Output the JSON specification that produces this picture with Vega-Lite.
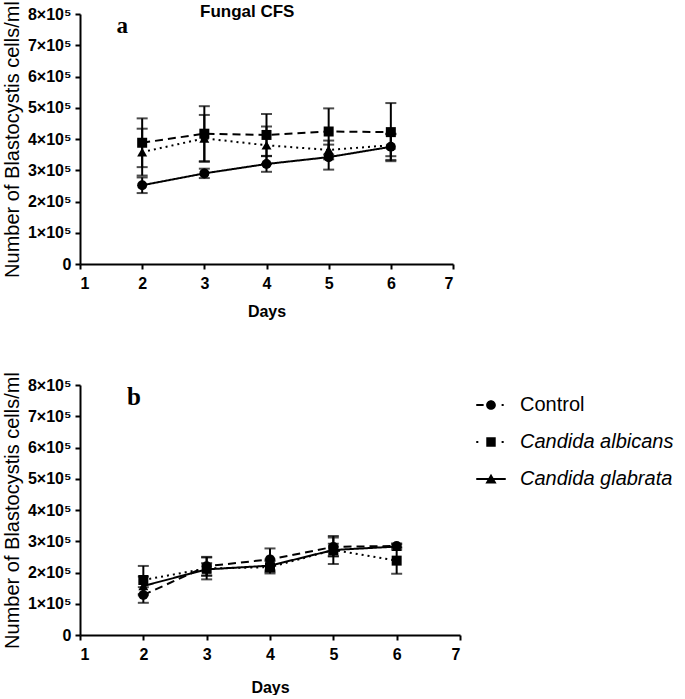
{
  "$schema": "https://vega.github.io/schema/vega-lite/v6.json",
  "padding": {"left": 2, "top": 0, "right": 0, "bottom": 0},
  "spacing": 52,
  "resolve": {"scale": {"strokeDash": "independent", "shape": "independent"}, "legend": {"shape": "independent", "strokeDash": "independent"}},
  "config": {
    "view": {"stroke": null},
    "font": "Liberation Sans",
    "axis": {
      "domainColor": "black", "domainWidth": 2, "tickColor": "black", "tickWidth": 2, "tickSize": 5,
      "labelFont": "Liberation Sans", "labelFontWeight": "bold", "labelColor": "black", "labelFontSize": 16,
      "titleFont": "Liberation Sans", "titleFontWeight": "bold", "titleColor": "black", "titleFontSize": 16,
      "grid": false
    }
  },
  "datasets": {
    "cells": [
      {"panel": "a", "series": "Control", "day": 2, "mean": 252000, "sd": 25000},
      {"panel": "a", "series": "Control", "day": 3, "mean": 290000, "sd": 15000},
      {"panel": "a", "series": "Control", "day": 4, "mean": 320000, "sd": 25000},
      {"panel": "a", "series": "Control", "day": 5, "mean": 342000, "sd": 40000},
      {"panel": "a", "series": "Control", "day": 6, "mean": 375000, "sd": 42000},
      {"panel": "a", "series": "Candida albicans", "day": 2, "mean": 388000, "sd": 78000},
      {"panel": "a", "series": "Candida albicans", "day": 3, "mean": 417000, "sd": 88000},
      {"panel": "a", "series": "Candida albicans", "day": 4, "mean": 413000, "sd": 67000},
      {"panel": "a", "series": "Candida albicans", "day": 5, "mean": 424000, "sd": 74000},
      {"panel": "a", "series": "Candida albicans", "day": 6, "mean": 422000, "sd": 93000},
      {"panel": "a", "series": "Candida glabrata", "day": 2, "mean": 358000, "sd": 75000},
      {"panel": "a", "series": "Candida glabrata", "day": 3, "mean": 402000, "sd": 75000},
      {"panel": "a", "series": "Candida glabrata", "day": 4, "mean": 380000, "sd": 60000},
      {"panel": "a", "series": "Candida glabrata", "day": 5, "mean": 365000, "sd": 30000},
      {"panel": "a", "series": "Candida glabrata", "day": 6, "mean": 380000, "sd": 35000},
      {"panel": "b", "series": "Control", "day": 2, "mean": 128000, "sd": 25000},
      {"panel": "b", "series": "Control", "day": 3, "mean": 220000, "sd": 30000},
      {"panel": "b", "series": "Control", "day": 4, "mean": 242000, "sd": 35000},
      {"panel": "b", "series": "Control", "day": 5, "mean": 282000, "sd": 30000},
      {"panel": "b", "series": "Control", "day": 6, "mean": 285000, "sd": 5000},
      {"panel": "b", "series": "Candida albicans", "day": 2, "mean": 176000, "sd": 45000},
      {"panel": "b", "series": "Candida albicans", "day": 3, "mean": 213000, "sd": 35000},
      {"panel": "b", "series": "Candida albicans", "day": 4, "mean": 217000, "sd": 20000},
      {"panel": "b", "series": "Candida albicans", "day": 5, "mean": 272000, "sd": 45000},
      {"panel": "b", "series": "Candida albicans", "day": 6, "mean": 238000, "sd": 42000},
      {"panel": "b", "series": "Candida glabrata", "day": 2, "mean": 157000, "sd": 30000},
      {"panel": "b", "series": "Candida glabrata", "day": 3, "mean": 210000, "sd": 20000},
      {"panel": "b", "series": "Candida glabrata", "day": 4, "mean": 222000, "sd": 20000},
      {"panel": "b", "series": "Candida glabrata", "day": 5, "mean": 272000, "sd": 20000},
      {"panel": "b", "series": "Candida glabrata", "day": 6, "mean": 283000, "sd": 10000}
    ]
  },
  "vconcat": [
    {
      "width": 373, "height": 250,
      "title": {"text": "Fungal CFS", "anchor": "start", "frame": "group", "dx": 120, "offset": -20.5, "fontSize": 17, "font": "Liberation Sans", "fontWeight": "bold", "color": "black"},
      "data": {"name": "cells"},
      "encoding": {
        "x": {"field": "day", "type": "quantitative", "scale": {"domain": [1, 7]},
              "axis": {"values": [1, 2, 3, 4, 5, 6, 7], "title": "Days", "labelPadding": 6, "titlePadding": 12}},
        "y": {"field": "mean", "type": "quantitative", "scale": {"domain": [0, 800000]},
              "axis": {"values": [0, 100000, 200000, 300000, 400000, 500000, 600000, 700000, 800000],
                       "labelExpr": "datum.value === 0 ? '0' : (datum.value / 100000) + '×10⁵'",
                       "labelPadding": 4, "title": "Number of Blastocystis cells/ml", "titleFontWeight": "normal", "titleFontSize": 20, "titlePadding": 5}}
      },
      "layer": [
        {"transform": [{"filter": "datum.panel === 'a'"}],
         "mark": {"type": "errorbar", "ticks": {"size": 11}, "thickness": 2, "color": "black"},
         "encoding": {"yError": {"field": "sd"}}},
        {"transform": [{"filter": "datum.panel === 'a'"}],
         "mark": {"type": "line", "color": "black", "strokeWidth": 2},
         "encoding": {"strokeDash": {"field": "series", "type": "nominal",
           "scale": {"domain": ["Control", "Candida albicans", "Candida glabrata"], "range": [[1, 0], [8, 5], [2, 4]]}, "legend": null}}},
        {"transform": [{"filter": "datum.panel === 'a'"}],
         "mark": {"type": "point", "filled": true, "color": "black", "opacity": 1, "size": 100},
         "encoding": {"shape": {"field": "series", "type": "nominal",
           "scale": {"domain": ["Control", "Candida albicans", "Candida glabrata"], "range": ["circle", "square", "triangle-up"]}, "legend": null}}},
        {"transform": [{"filter": "datum.panel === 'a' && datum.series === 'Control' && datum.day === 2"}],
         "mark": {"type": "text", "font": "Liberation Serif", "fontWeight": "bold", "fontSize": 23, "color": "black", "baseline": "alphabetic", "align": "center"},
         "encoding": {"x": {"datum": 1.68}, "y": {"datum": 738000}, "text": {"value": "a"}}}
      ]
    },
    {
      "width": 380, "height": 250,
      "data": {"name": "cells"},
      "encoding": {
        "x": {"field": "day", "type": "quantitative", "scale": {"domain": [1, 7]},
              "axis": {"values": [1, 2, 3, 4, 5, 6, 7], "title": "Days", "labelPadding": 6, "titlePadding": 17}},
        "y": {"field": "mean", "type": "quantitative", "scale": {"domain": [0, 800000]},
              "axis": {"values": [0, 100000, 200000, 300000, 400000, 500000, 600000, 700000, 800000],
                       "labelExpr": "datum.value === 0 ? '0' : (datum.value / 100000) + '×10⁵'",
                       "labelPadding": 4, "title": "Number of Blastocystis cells/ml", "titleFontWeight": "normal", "titleFontSize": 20, "titlePadding": 5}}
      },
      "layer": [
        {"transform": [{"filter": "datum.panel === 'b'"}],
         "mark": {"type": "errorbar", "ticks": {"size": 11}, "thickness": 2, "color": "black"},
         "encoding": {"yError": {"field": "sd"}}},
        {"transform": [{"filter": "datum.panel === 'b'"}],
         "mark": {"type": "line", "color": "black", "strokeWidth": 2},
         "encoding": {"strokeDash": {"field": "series", "type": "nominal",
           "scale": {"domain": ["Control", "Candida albicans", "Candida glabrata"], "range": [[8, 5], [2, 4], [1, 0]]}, "legend": null}}},
        {"transform": [{"filter": "datum.panel === 'b'"}],
         "mark": {"type": "point", "filled": true, "color": "black", "opacity": 1, "size": 100},
         "encoding": {"shape": {"field": "series", "type": "nominal",
           "scale": {"domain": ["Control", "Candida albicans", "Candida glabrata"], "range": ["circle", "square", "triangle-up"]}, "legend": null}}},
        {"transform": [{"filter": "false"}],
         "mark": {"type": "point", "filled": true, "color": "black", "opacity": 1},
         "encoding": {"shape": {"field": "series", "type": "nominal",
           "scale": {"domain": ["Control", "Candida albicans", "Candida glabrata"],
                     "range": ["M-1,-0.07H-0.5V0.07H-1Z M0.33,0A0.33,0.33 0 1,1 -0.33,0A0.33,0.33 0 1,1 0.33,0Z M0.72,-0.07H0.86V0.07H0.72Z",
                               "M-1,-0.07H-0.86V0.07H-1Z M-0.32,-0.32H0.32V0.32H-0.32Z M0.72,-0.07H0.86V0.07H0.72Z",
                               "M-1,-0.07H-0.15V0.07H-1Z M0.15,-0.07H1V0.07H0.15Z M0,-0.36L0.38,0.3H-0.38Z"]},
           "legend": {"title": null, "orient": "none", "legendX": 396, "legendY": 5, "symbolSize": 870,
                      "symbolFillColor": "black", "symbolStrokeColor": "black", "symbolStrokeWidth": 0, "symbolOpacity": 1,
                      "labelFont": "Liberation Sans", "labelFontSize": 20, "labelColor": "black", "labelOffset": 14, "rowPadding": 12,
                      "labelLimit": 300,
                      "labelFontStyle": {"expr": "datum.value === 'Control' ? 'normal' : 'italic'"}}}}},
        {"transform": [{"filter": "datum.panel === 'b' && datum.series === 'Control' && datum.day === 2"}],
         "mark": {"type": "text", "font": "Liberation Serif", "fontWeight": "bold", "fontSize": 25, "color": "black", "baseline": "alphabetic", "align": "center"},
         "encoding": {"x": {"datum": 1.85}, "y": {"datum": 735000}, "text": {"value": "b"}}}
      ],
      "resolve": {"scale": {"shape": "independent"}, "legend": {"shape": "independent"}}
    }
  ]
}
